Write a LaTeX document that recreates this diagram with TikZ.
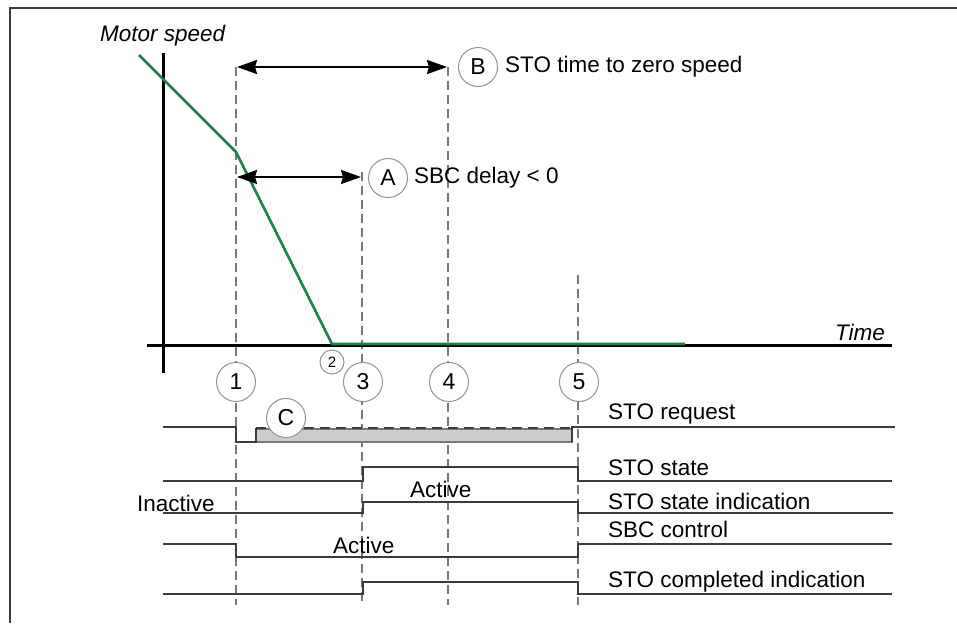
\documentclass[tikz,border=0pt]{standalone}
\usepackage{fontspec}
\setmainfont{Liberation Sans}
\usetikzlibrary{arrows.meta}
\definecolor{spd}{RGB}{28,128,68}
\definecolor{sig}{RGB}{60,60,60}
\definecolor{dashc}{RGB}{120,120,120}
\definecolor{boxfill}{RGB}{205,205,205}
\begin{document}
\begin{tikzpicture}[x=1pt,y=-1pt,
  txt/.style={anchor=base west, inner sep=0, font=\fontsize{22.5}{27}\selectfont},
  itxt/.style={txt, font=\fontsize{22.5}{27}\selectfont\itshape},
  circ/.style={circle, draw=dashc!80, line width=1pt, fill=white, minimum size=39pt, inner sep=0, font=\fontsize{23}{27}\selectfont},
  smallcirc/.style={circ, minimum size=24pt, font=\fontsize{15}{18}\selectfont},
  axis/.style={line width=3pt, black},
  guide/.style={dashc, line width=1.1pt, dash pattern=on 9pt off 5pt},
  wave/.style={sig, line width=1.6pt},
  dim/.style={line width=2pt, black, {Stealth[length=20pt,width=14pt,inset=2pt]}-{Stealth[length=20pt,width=14pt,inset=2pt]}},
  speed/.style={spd, line width=2.6pt, line join=round}
]
\useasboundingbox (0,0) rectangle (957,623);
% frame
\draw[line width=1.2pt, sig] (10,623) -- (10,8) -- (957,8);

% guide coordinates
\coordinate (g1t) at (236,67);  \coordinate (g1b) at (236,605);
\coordinate (g3t) at (362,172); \coordinate (g3b) at (362,605);
\coordinate (g4t) at (448,67);  \coordinate (g4b) at (448,605);
\coordinate (g5t) at (578,275); \coordinate (g5b) at (578,605);
\draw[guide] (g1t) -- (g1b);
\draw[guide] (g3t) -- (g3b);
\draw[guide] (g4t) -- (g4b);
\draw[guide] (g5t) -- (g5b);

% axes
\coordinate (yt) at (163,53); \coordinate (yb) at (163,373);
\coordinate (xl) at (147,345); \coordinate (xr) at (892,345);
\draw[axis] (yt) -- (yb);
\draw[axis] (xl) -- (xr);
\node[itxt] (ms) at (100,42) {Motor speed};
\node[itxt, anchor=base east] (tm) at (885,340) {Time};

% speed curve
\draw[speed] (139,55) -- (236,152) -- (332,344) -- (685,344);

% dimension arrows
\node[circ] (B) at (478,67) {B};
\node[txt] (Bt) at (505,73) {STO time to zero speed};
\node[circ] (A) at (388,178) {A};
\node[txt] (At) at (414,183) {SBC delay < 0};
\draw[dim] (237,67) -- (447,67);
\draw[dim] (237,177) -- (361,177);

% event markers
\node[circ] (c1) at (236,382) {1};
\node[smallcirc] (c2) at (332,362) {2};
\node[circ] (c3) at (363,382) {3};
\node[circ] (c4) at (449,382) {4};
\node[circ] (c5) at (579,382) {5};

% STO request
\draw[fill=boxfill, draw=dashc, line width=1.2pt] (256,429) rectangle (572,442);
\draw[sig, line width=1.4pt, dash pattern=on 10pt off 6pt] (256,428) -- (572,428);
\draw[wave] (163,427) -- (236,427) -- (236,442) -- (256,442) -- (256,428);
\draw[wave] (572,442) -- (572,427) -- (895,427);
\node[circ] (C) at (286,418) {C};

% STO state
\draw[wave] (163,481) -- (363,481) -- (363,467) -- (578,467) -- (578,481) -- (892,481);
% STO state indication
\draw[wave] (163,513) -- (363,513) -- (363,502) -- (578,502) -- (578,513) -- (893,513);
% SBC control
\draw[wave] (163,544) -- (236,544) -- (236,557) -- (578,557) -- (578,544) -- (892,544);
% STO completed indication
\draw[wave] (163,594) -- (363,594) -- (363,582) -- (578,582) -- (578,594) -- (892,594);

% labels
\node[txt] (l1) at (608,419) {STO request};
\node[txt] (l2) at (608,475) {STO state};
\node[txt] (l3) at (608,509) {STO state indication};
\node[txt] (l4) at (608,537) {SBC control};
\node[txt] (l5) at (608,587) {STO completed indication};
\node[txt] (ina) at (137,511) {Inactive};
\node[txt] (act1) at (410,497) {Active};
\node[txt] (act2) at (333,553) {Active};
\end{tikzpicture}
\end{document}
